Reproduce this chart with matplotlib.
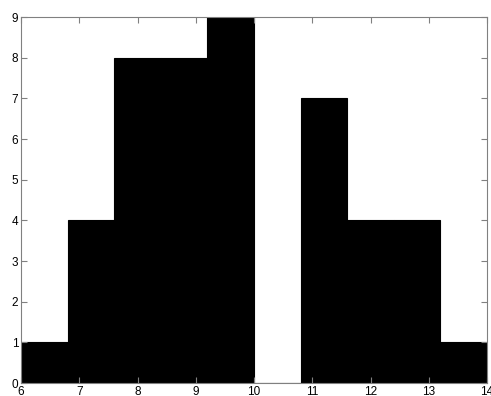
import matplotlib
matplotlib.use("Agg")
import matplotlib.pyplot as plt
import numpy as np

bin_edges = [6.0, 6.8, 7.6, 8.4, 9.2, 10.0, 10.8, 11.6, 12.4, 13.2, 14.0]
counts = [1, 4, 8, 8, 9, 0, 7, 4, 4, 1]
xticks = [6, 7, 8, 9, 10, 11, 12, 13, 14]
yticks = [0, 1, 2, 3, 4, 5, 6, 7, 8, 9]

plt.rcParams['font.family'] = ['Liberation Sans', 'DejaVu Sans']

fig = plt.figure(figsize=(4.91, 3.96), dpi=100)
ax = fig.add_axes([21/491, 13/396, 466/491, 366/396])

lefts = np.array(bin_edges[:-1])
widths = np.diff(bin_edges)
ax.bar(lefts, counts, width=widths, align='edge', color='black', edgecolor='black', linewidth=0.8)

ax.set_xlim(6, 14)
ax.set_ylim(0, 9)
ax.set_xticks(xticks)
ax.set_yticks(yticks)
ax.tick_params(direction='in', length=4, width=0.8, color='#808080', labelsize=8.5, pad=2,
               top=True, right=True)
for s in ax.spines.values():
    s.set_color('#808080')
    s.set_linewidth(0.8)

fig.savefig('out.png', dpi=100)
